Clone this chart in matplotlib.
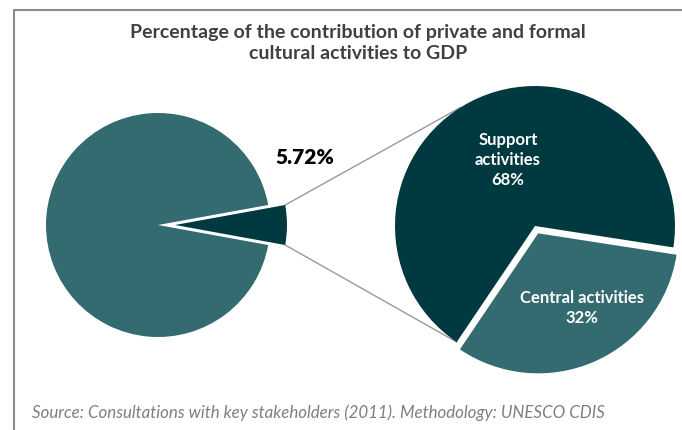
import numpy as np
import matplotlib.pyplot as plt

# data
gdp_labels = ["Cultural activities", "Rest of GDP"]
gdp_share = [5.72, 94.28]
sub_labels = ["Central activities", "Support activities"]
sub_share = [32, 68]

title = "Percentage of the contribution of private and formal\ncultural activities to GDP"
source = "Source: Consultations with key stakeholders (2011). Methodology: UNESCO CDIS"

teal = "#336b70"
dark = "#003a40"
grey_line = "#999999"

plt.rcParams['font.family'] = ['Lato', 'DejaVu Sans']

fig = plt.figure(figsize=(6.82, 4.30), dpi=100)
ax = fig.add_axes([0, 0, 1, 1])

# left pie, small slice pointing right (explode is in data units here)
half = gdp_share[0] / 100 * 360 / 2
left_w, _ = ax.pie(gdp_share, colors=[dark, teal], explode=[17, 0],
                   startangle=-half, center=(158, 205), radius=112,
                   wedgeprops=dict(edgecolor="none"))

# right pie, breakdown of the cultural slice
right_c = (535, 204)
right_r = 140
right_w, _ = ax.pie(sub_share, colors=[teal, dark], explode=[8, 0],
                    startangle=-124, center=right_c, radius=right_r,
                    wedgeprops=dict(edgecolor="none"))

ax.set_xlim(0, 682)
ax.set_ylim(0, 430)
ax.set_aspect("equal")
ax.axis("off")

# connector lines from the small slice tips to the second pie
sw = left_w[0]
cx, cy = sw.center
for a_from, a_to in [(sw.theta2, 122), (sw.theta1, -124)]:
    x0 = cx + sw.r * np.cos(np.radians(a_from))
    y0 = cy + sw.r * np.sin(np.radians(a_from))
    x1 = right_c[0] + right_r * np.cos(np.radians(a_to))
    y1 = right_c[1] + right_r * np.sin(np.radians(a_to))
    ax.plot([x0, x1], [y0, y1], color=grey_line, lw=1, zorder=0)

ax.text(305, 272, f"{gdp_share[0]:.2f}%", fontsize=15, fontweight="heavy",
        ha="center", va="center", color="black")
ax.text(508, 270, f"Support\nactivities\n{sub_share[1]}%", fontsize=12,
        fontweight="bold", color="white", ha="center", va="center", linespacing=1.3)
ax.text(582, 122, f"Central activities\n{sub_share[0]}%", fontsize=12,
        fontweight="bold", color="white", ha="center", va="center", linespacing=1.3)

ax.text(358, 387, title, fontsize=14, fontweight="bold", color="#404040",
        ha="center", va="center", linespacing=1.25)
ax.text(32, 17, source, fontsize=12.2, style="italic", color="#7f7f7f",
        ha="left", va="center")

# frame of the chart area
ax.plot([14, 14, 682], [0, 420, 420], color="#8c8c8c", lw=1.5, clip_on=False)

fig.savefig("out.png", dpi=100)
